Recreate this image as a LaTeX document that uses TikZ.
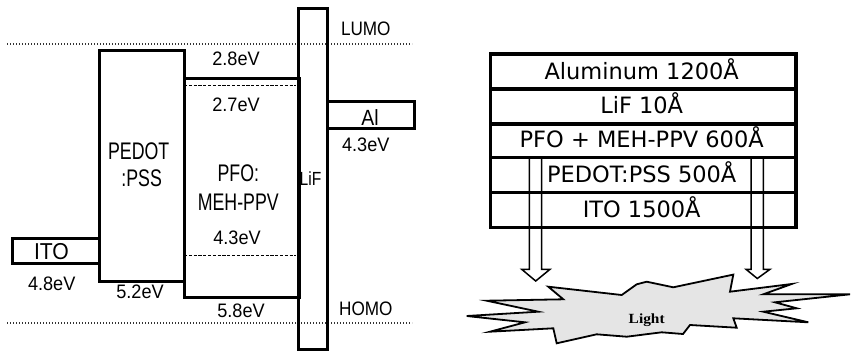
\documentclass[tikz,border=0pt]{standalone}
\usepackage{fontspec}
\usepackage{graphicx}
\setmainfont{Liberation Sans}
\newfontfamily\stackfont{DejaVu Sans}
\newfontfamily\lightfont{Liberation Serif}
\newcommand{\sxt}[3]{\fontsize{#1}{#1}\selectfont\scalebox{#2}[1]{#3}}
\tikzset{
  ebox/.style 2 args={draw, line width=3pt, rectangle, inner sep=0pt, anchor=north west,
    minimum width=#1pt, minimum height=#2pt},
  lvl/.style={draw, line width=1.7pt, dash pattern=on 3.2pt off 1.6pt},
  dotline/.style={draw=black!80, line width=1.7pt, dash pattern=on 1.1pt off 1.9pt},
  txt/.style={inner sep=0pt, anchor=center},
  rowbox/.style={draw, line width=3.2pt, rectangle, inner sep=0pt, anchor=north west,
    minimum width=305.3pt, minimum height=#1pt},
  rowtxt/.style={inner sep=0pt, anchor=base, font=\stackfont\fontsize{22.5}{22.5}\selectfont},
  blockarrow/.style={draw, line width=1.5pt, line join=miter},
  burst/.style={draw, line width=1.8pt, fill=black!10, line join=miter}
}
\begin{document}
\begin{tikzpicture}[x=1pt, y=-1pt]
\useasboundingbox (0,0) rectangle (852,351);
% ---------- left: energy diagram ----------
\coordinate (lumoL) at (7,44); \coordinate (lumoR) at (412,44);
\coordinate (homoL) at (7,323); \coordinate (homoR) at (412,323);
\draw[dotline] (lumoL) -- (lumoR);
\draw[dotline] (homoL) -- (homoR);

\node[ebox={85}{231}] (pedot) at (97.7,49) {};
\node[ebox={115}{219.5}] (pfo) at (182.7,76.5) {};
\node[ebox={28.6}{341.3}] (lif) at (297.4,6.7) {};
\node[ebox={87}{27}] (al) at (326,100) {};
\node[ebox={86.7}{25}] (ito) at (11,237) {};

\coordinate (d1a) at (184,85.5); \coordinate (d1b) at (296,85.5);
\coordinate (d2a) at (184,255.5); \coordinate (d2b) at (296,255.5);
\draw[lvl] (d1a) -- (d1b);
\draw[lvl] (d2a) -- (d2b);

\node[txt] (tlumo) at (365.8,28.5) {\sxt{19.5}{0.88}{LUMO}};
\node[txt] (thomo) at (365.8,308.5) {\sxt{19.5}{0.88}{HOMO}};
\node[txt] (t28) at (236,58.5) {\sxt{19.5}{0.93}{2.8eV}};
\node[txt] (t27) at (236,105) {\sxt{19.5}{0.93}{2.7eV}};
\node[txt] (t43a) at (237,237.5) {\sxt{19.5}{0.93}{4.3eV}};
\node[txt] (t58) at (241,311) {\sxt{19.5}{0.93}{5.8eV}};
\node[txt] (t52) at (140,292) {\sxt{19.5}{0.93}{5.2eV}};
\node[txt] (t48) at (51.7,284) {\sxt{19.5}{0.93}{4.8eV}};
\node[txt] (t43b) at (365.8,145) {\sxt{19.5}{0.93}{4.3eV}};
\node[txt] (tal) at (370,117.5) {\sxt{22}{0.88}{Al}};
\node[txt] (tito) at (51.5,252) {\sxt{23}{0.92}{ITO}};
\node[txt] (tpedot) at (138.7,151.5) {\sxt{24}{0.74}{PEDOT}};
\node[txt] (tpss) at (141.7,178.5) {\sxt{24}{0.74}{:PSS}};
\node[txt] (tpfo) at (238.3,173) {\sxt{24}{0.74}{PFO:}};
\node[txt] (tmeh) at (238.3,202.5) {\sxt{24}{0.74}{MEH-PPV}};
\node[txt] (tlif) at (310.5,178.5) {\sxt{19}{0.82}{LiF}};

% ---------- right: device stack ----------
\node[rowbox=35] (r1) at (489,52.3) {};
\node[rowbox=35] (r2) at (489,87.3) {};
\node[rowbox=33.4] (r3) at (489,122.3) {};
\node[rowbox=35] (r4) at (489,155.7) {};
\node[rowbox=35.3] (r5) at (489,190.7) {};

\node[rowtxt] (s1) at (641.7,79.3) {Aluminum 1200Å};
\node[rowtxt] (s2) at (641.7,113.8) {LiF 10Å};
\node[rowtxt] (s3) at (641.7,147.3) {PFO + MEH-PPV 600Å};
\node[rowtxt] (s4) at (641.7,182.3) {PEDOT:PSS 500Å};
\node[rowtxt] (s5) at (641.7,217.5) {ITO 1500Å};

% light burst
\path[burst] (548.3,286.7) -- (621.7,295) -- (636.7,284.3) -- (646.7,281.7) -- (673.3,287.3)
  -- (733.3,274.6) -- (730,291.7) -- (791.7,284) -- (763.3,294.3) -- (850,294.3)
  -- (775,302.3) -- (796.7,308.3) -- (763.3,311.7) -- (808.3,322.3) -- (733.3,318.3)
  -- (736.7,327.7) -- (690,325) -- (683,334) -- (661.7,332.3) -- (626.7,336.7)
  -- (596.7,334.3) -- (556.7,343.3) -- (553.3,328.3) -- (490,331.7) -- (525,322.3)
  -- (466.7,316) -- (538.3,311.7) -- (486.7,300.7) -- (563.3,299.3) -- cycle;
\node[inner sep=0pt] (light) at (646.7,320) {\lightfont\bfseries\fontsize{14}{14}\selectfont\scalebox{1.1}[1]{Light}};

% block arrows
\coordinate (la1) at (529.3,157); \coordinate (la2) at (541.7,157);
\coordinate (ltip) at (535.7,281);
\draw[blockarrow] (la1) -- (529.3,269.3) -- (521.7,269.3) -- (ltip) -- (550,269.3) -- (541.7,269.3) -- (la2);
\coordinate (ra1) at (751,157); \coordinate (ra2) at (763.3,157);
\coordinate (rtip) at (757.3,278.5);
\draw[blockarrow] (ra1) -- (751,269.3) -- (746,269.3) -- (rtip) -- (770,269.3) -- (763.3,269.3) -- (ra2);
\end{tikzpicture}
\end{document}
